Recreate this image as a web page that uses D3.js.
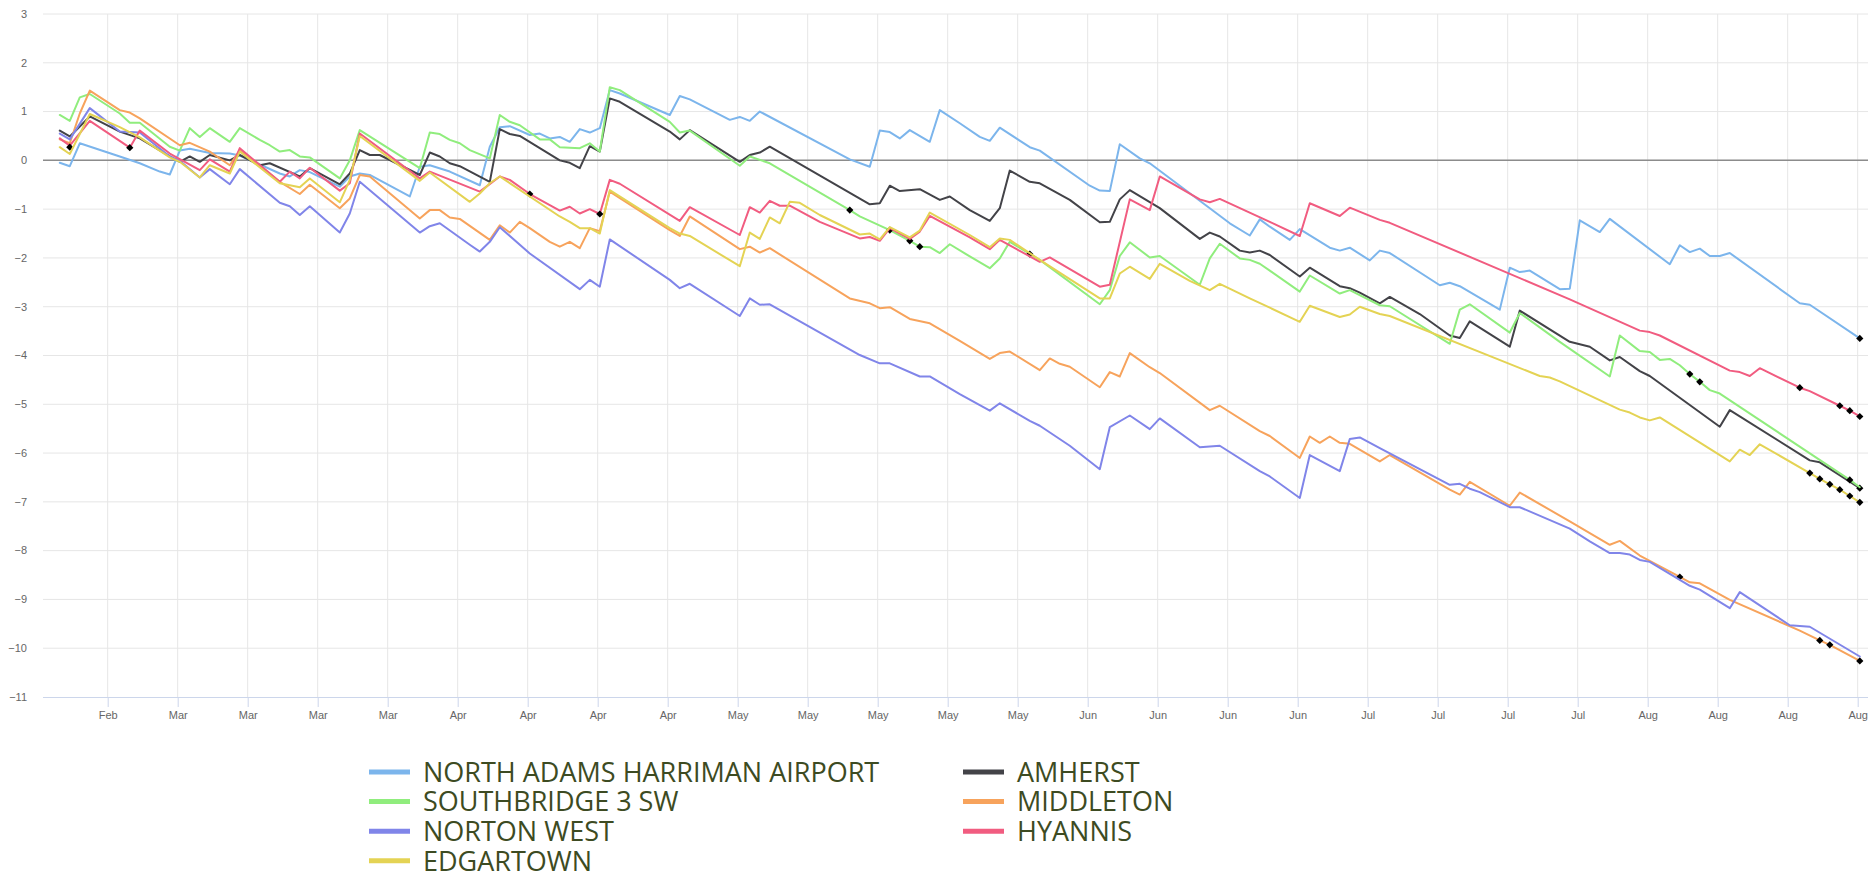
<!DOCTYPE html>
<html>
<head>
<meta charset="utf-8">
<script src="https://cdn.jsdelivr.net/npm/d3@7"></script>
<style>
  body { margin: 0; background: #fff; }
  svg { display: block; font-family: "Open Sans", "DejaVu Sans", sans-serif; }
</style>
</head>
<body>
<div id="chart"></div>
<script>
// station names and colours, in legend order
const names = ['NORTH ADAMS HARRIMAN AIRPORT', 'AMHERST', 'SOUTHBRIDGE 3 SW', 'MIDDLETON', 'NORTON WEST', 'HYANNIS', 'EDGARTOWN'];
const colors = ['#7cb5ec', '#434348', '#90ed7d', '#f7a35c', '#8085e9', '#f15c80', '#e4d354'];

// readings: [day since Feb 23 2021, value]
const northAdams = [[0,-0.05],[1,-0.12],[2,0.35],[6,0.08],[8,-0.06],[10,-0.23],[11,-0.29],[12,0.2],[13,0.24],[15,0.15],[17,0.14],[18,0.1],[22,-0.27],[23,-0.33],[24,-0.2],[25,-0.24],[28,-0.54],[29,-0.33],[30,-0.27],[31,-0.3],[35,-0.74],[36,-0.13],[37,-0.1],[39,-0.23],[42,-0.51],[43,0.28],[44,0.68],[45,0.7],[47,0.52],[48,0.55],[49,0.45],[50,0.48],[51,0.38],[52,0.64],[53,0.57],[54,0.66],[55,1.44],[56,1.37],[61,0.93],[62,1.32],[63,1.25],[67,0.83],[68,0.89],[69,0.81],[70,1.0],[79,0.02],[81,-0.13],[82,0.61],[83,0.58],[84,0.45],[85,0.62],[87,0.38],[88,1.03],[90,0.76],[92,0.48],[93,0.4],[94,0.67],[97,0.27],[98,0.2],[103,-0.52],[104,-0.62],[105,-0.63],[106,0.33],[108,0.04],[109,-0.06],[117,-1.29],[119,-1.54],[120,-1.21],[121,-1.36],[123,-1.63],[124,-1.41],[127,-1.79],[128,-1.85],[129,-1.79],[131,-2.05],[132,-1.85],[133,-1.9],[138,-2.56],[139,-2.51],[140,-2.58],[144,-3.06],[145,-2.2],[146,-2.29],[147,-2.26],[150,-2.64],[151,-2.63],[152,-1.23],[154,-1.47],[155,-1.2],[161,-2.13],[162,-1.74],[163,-1.88],[164,-1.81],[165,-1.96],[166,-1.96],[167,-1.9],[174,-2.93],[175,-2.96],[180,-3.65]];
const amherst = [[0,0.61],[1,0.49],[3,0.9],[6,0.59],[8,0.45],[11,0.08],[12,-0.03],[13,0.08],[14,-0.03],[15,0.11],[17,0],[18,0.11],[20,-0.1],[21,-0.06],[24,-0.33],[25,-0.16],[28,-0.49],[29,-0.27],[30,0.21],[31,0.11],[32,0.11],[36,-0.3],[37,0.16],[38,0.08],[39,-0.06],[40,-0.12],[43,-0.44],[44,0.64],[45,0.54],[46,0.5],[50,0],[51,-0.05],[52,-0.16],[53,0.29],[54,0.18],[55,1.27],[56,1.2],[61,0.59],[62,0.43],[63,0.62],[68,-0.03],[69,0.11],[70,0.16],[71,0.28],[81,-0.9],[82,-0.88],[83,-0.52],[84,-0.63],[86,-0.59],[88,-0.81],[89,-0.74],[91,-1.02],[93,-1.24],[94,-0.98],[95,-0.21],[97,-0.44],[98,-0.47],[101,-0.81],[104,-1.27],[105,-1.26],[106,-0.8],[107,-0.61],[110,-0.98],[114,-1.61],[115,-1.48],[116,-1.56],[118,-1.85],[119,-1.89],[120,-1.85],[121,-1.94],[124,-2.38],[125,-2.2],[128,-2.58],[129,-2.62],[130,-2.71],[132,-2.93],[133,-2.8],[136,-3.15],[139,-3.59],[140,-3.64],[141,-3.3],[145,-3.82],[146,-3.08],[151,-3.72],[153,-3.82],[155,-4.1],[156,-4.03],[158,-4.32],[159,-4.42],[166,-5.46],[167,-5.12],[175,-6.15],[176,-6.19],[180,-6.72]];
const southbridge = [[0,0.93],[1,0.81],[2,1.29],[3,1.36],[6,0.96],[7,0.77],[8,0.77],[11,0.28],[12,0.2],[13,0.66],[14,0.48],[15,0.66],[17,0.38],[18,0.66],[20,0.42],[21,0.31],[22,0.18],[23,0.21],[24,0.08],[25,0.06],[28,-0.37],[29,0],[30,0.62],[36,-0.16],[37,0.57],[38,0.54],[39,0.42],[40,0.35],[41,0.21],[43,0.04],[44,0.93],[45,0.79],[46,0.72],[48,0.43],[49,0.43],[50,0.27],[52,0.25],[53,0.35],[54,0.18],[55,1.5],[56,1.44],[61,0.79],[62,0.57],[63,0.61],[68,-0.11],[69,0.08],[71,-0.06],[79,-1.02],[80,-1.15],[83,-1.43],[85,-1.65],[86,-1.77],[87,-1.78],[88,-1.9],[89,-1.72],[91,-1.97],[93,-2.21],[94,-2.01],[95,-1.67],[98,-2.04],[104,-2.95],[105,-2.66],[106,-1.96],[107,-1.68],[109,-1.99],[110,-1.96],[114,-2.55],[115,-2.01],[116,-1.71],[118,-2.01],[119,-2.04],[120,-2.12],[121,-2.26],[124,-2.69],[125,-2.36],[128,-2.73],[129,-2.66],[132,-2.97],[133,-2.99],[139,-3.76],[140,-3.06],[141,-2.95],[145,-3.53],[146,-3.13],[150,-3.72],[155,-4.43],[156,-3.59],[158,-3.91],[159,-3.93],[160,-4.09],[161,-4.07],[162,-4.2],[163,-4.38],[164,-4.54],[165,-4.71],[166,-4.78],[179,-6.55],[180,-6.7]];
const middleton = [[0,0.43],[1,0.35],[2,0.96],[3,1.43],[6,1.03],[7,0.98],[8,0.86],[12,0.31],[13,0.36],[15,0.18],[17,-0.1],[18,0.21],[22,-0.44],[24,-0.69],[25,-0.5],[28,-0.98],[29,-0.78],[30,-0.3],[31,-0.33],[36,-1.19],[37,-1.02],[38,-1.02],[39,-1.17],[40,-1.2],[43,-1.63],[44,-1.33],[45,-1.48],[46,-1.26],[47,-1.39],[49,-1.67],[50,-1.77],[51,-1.67],[52,-1.8],[53,-1.39],[54,-1.45],[55,-0.64],[61,-1.43],[62,-1.55],[63,-1.15],[68,-1.82],[69,-1.77],[70,-1.89],[71,-1.8],[79,-2.83],[81,-2.93],[82,-3.03],[83,-3.01],[85,-3.25],[87,-3.34],[90,-3.7],[93,-4.07],[94,-3.95],[95,-3.92],[98,-4.3],[99,-4.06],[100,-4.17],[101,-4.23],[104,-4.65],[105,-4.34],[106,-4.43],[107,-3.95],[109,-4.24],[110,-4.36],[115,-5.12],[116,-5.03],[120,-5.55],[121,-5.65],[124,-6.1],[125,-5.66],[126,-5.79],[127,-5.66],[128,-5.79],[129,-5.81],[132,-6.17],[133,-6.04],[139,-6.75],[140,-6.85],[141,-6.59],[145,-7.08],[146,-6.81],[151,-7.4],[155,-7.88],[156,-7.8],[158,-8.1],[162,-8.54],[163,-8.65],[164,-8.67],[167,-9.01],[174,-9.64],[176,-9.84],[177,-9.93],[180,-10.26]];
const nortonWest = [[0,0.55],[1,0.43],[3,1.07],[6,0.59],[8,0.57],[11,0.08],[12,-0.01],[14,-0.35],[15,-0.18],[17,-0.49],[18,-0.18],[22,-0.87],[23,-0.94],[24,-1.12],[25,-0.94],[28,-1.48],[29,-1.09],[30,-0.44],[36,-1.48],[37,-1.35],[38,-1.29],[41,-1.73],[42,-1.87],[43,-1.67],[44,-1.37],[47,-1.91],[52,-2.64],[53,-2.45],[54,-2.59],[55,-1.62],[61,-2.45],[62,-2.62],[63,-2.53],[68,-3.19],[69,-2.83],[70,-2.96],[71,-2.95],[80,-3.99],[82,-4.16],[83,-4.16],[86,-4.43],[87,-4.43],[90,-4.79],[93,-5.13],[94,-4.98],[97,-5.34],[98,-5.44],[101,-5.85],[104,-6.33],[105,-5.47],[107,-5.23],[109,-5.51],[110,-5.29],[114,-5.88],[116,-5.85],[120,-6.37],[121,-6.48],[124,-6.92],[125,-6.04],[128,-6.37],[129,-5.71],[130,-5.68],[132,-5.9],[139,-6.65],[140,-6.63],[141,-6.73],[142,-6.8],[145,-7.11],[146,-7.11],[151,-7.55],[153,-7.81],[155,-8.05],[156,-8.05],[157,-8.08],[158,-8.19],[159,-8.23],[163,-8.72],[164,-8.8],[167,-9.18],[168,-8.85],[173,-9.53],[175,-9.56],[180,-10.17]];
const hyannis = [[0,0.45],[1,0.3],[3,0.81],[7,0.26],[8,0.61],[11,0.14],[14,-0.2],[15,0.02],[17,-0.23],[18,0.25],[22,-0.44],[23,-0.23],[24,-0.37],[25,-0.15],[28,-0.62],[29,-0.47],[30,0.55],[36,-0.37],[37,-0.23],[42,-0.64],[44,-0.33],[45,-0.4],[47,-0.69],[50,-1.03],[51,-0.95],[52,-1.09],[53,-1.0],[54,-1.1],[55,-0.4],[56,-0.48],[62,-1.24],[63,-0.96],[68,-1.53],[69,-0.96],[70,-1.07],[71,-0.83],[72,-0.93],[73,-0.93],[76,-1.26],[80,-1.6],[81,-1.57],[82,-1.65],[83,-1.39],[85,-1.61],[86,-1.46],[87,-1.14],[91,-1.58],[93,-1.82],[94,-1.63],[98,-2.08],[99,-1.99],[104,-2.59],[105,-2.55],[107,-0.8],[109,-1.02],[110,-0.33],[114,-0.8],[115,-0.86],[116,-0.79],[121,-1.26],[124,-1.55],[125,-0.88],[128,-1.14],[129,-0.97],[132,-1.22],[133,-1.28],[151,-2.85],[158,-3.49],[159,-3.52],[160,-3.59],[167,-4.31],[168,-4.34],[169,-4.42],[170,-4.26],[174,-4.66],[175,-4.73],[178,-5.03],[179,-5.13],[180,-5.25]];
const edgartown = [[0,0.27],[1,0.13],[3,0.95],[6,0.68],[8,0.47],[11,0.06],[12,-0.03],[14,-0.35],[15,-0.1],[17,-0.27],[18,0.18],[22,-0.47],[24,-0.55],[25,-0.37],[28,-0.86],[29,-0.4],[30,0.5],[36,-0.42],[37,-0.25],[41,-0.85],[42,-0.68],[43,-0.47],[44,-0.33],[50,-1.15],[51,-1.26],[52,-1.39],[53,-1.39],[54,-1.5],[55,-0.61],[61,-1.39],[62,-1.5],[63,-1.55],[68,-2.17],[69,-1.48],[70,-1.61],[71,-1.17],[72,-1.29],[73,-0.85],[74,-0.87],[76,-1.12],[80,-1.52],[81,-1.5],[82,-1.62],[83,-1.37],[85,-1.58],[86,-1.44],[87,-1.07],[91,-1.53],[93,-1.78],[94,-1.6],[95,-1.63],[98,-2.04],[104,-2.83],[105,-2.83],[106,-2.32],[107,-2.18],[109,-2.43],[110,-2.12],[113,-2.47],[115,-2.66],[116,-2.53],[119,-2.83],[121,-3.02],[124,-3.31],[125,-2.98],[128,-3.21],[129,-3.16],[130,-3.0],[132,-3.15],[133,-3.19],[148,-4.42],[149,-4.45],[150,-4.53],[156,-5.11],[157,-5.17],[158,-5.27],[159,-5.33],[160,-5.27],[167,-6.17],[168,-5.93],[169,-6.04],[170,-5.82],[175,-6.41],[176,-6.53],[177,-6.64],[178,-6.75],[179,-6.88],[180,-7.01]];

// flagged readings: [series index, day, value]
const flagged = [[5,1,0.27],[5,7,0.26],[5,47,-0.69],[5,54,-1.1],[2,79,-1.02],[2,83,-1.43],[2,85,-1.65],[2,86,-1.77],[2,97,-1.92],[2,163,-4.38],[2,164,-4.54],[2,179,-6.55],[3,162,-8.54],[3,176,-9.84],[3,177,-9.93],[3,180,-10.26],[5,174,-4.66],[5,178,-5.03],[5,179,-5.13],[5,180,-5.25],[6,175,-6.41],[6,176,-6.53],[6,177,-6.64],[6,178,-6.75],[6,179,-6.88],[6,180,-7.01],[1,180,-6.72],[0,180,-3.65]];

const yTicks = d3.range(-11, 4);
const series = [northAdams, amherst, southbridge, middleton, nortonWest, hyannis, edgartown];

const width = 1868, height = 876;
const plot = { left: 43, right: 1868, top: 14, bottom: 697 };

const firstDay = new Date(2021, 1, 23, 5);
const toDate = n => d3.timeDay.offset(firstDay, n);

const x = d3.scaleTime()
  .domain([new Date(2021, 1, 21, 12, 43), new Date(2021, 7, 23, 0, 43)])
  .range([plot.left, plot.right]);
const y = d3.scaleLinear().domain([-11, 3]).range([plot.bottom, plot.top]);
const weekTicks = d3.timeSunday.range(new Date(2021, 1, 28), new Date(2021, 7, 23));

const svg = d3.select('#chart').append('svg')
  .attr('width', width)
  .attr('height', height);

// grid
svg.append('g').selectAll('line').data(yTicks.filter(d => d > -11)).join('line')
  .attr('x1', plot.left).attr('x2', plot.right)
  .attr('y1', d => y(d)).attr('y2', d => y(d))
  .attr('stroke', '#e6e6e6');
svg.append('g').selectAll('line').data(weekTicks).join('line')
  .attr('x1', d => x(d)).attr('x2', d => x(d))
  .attr('y1', plot.top).attr('y2', plot.bottom)
  .attr('stroke', '#e6e6e6');

// zero line
svg.append('line')
  .attr('x1', plot.left).attr('x2', plot.right)
  .attr('y1', y(0)).attr('y2', y(0))
  .attr('stroke', '#8c8c8c').attr('stroke-width', 1.5);

// x axis
const xAxis = svg.append('g')
  .attr('transform', 'translate(0,' + plot.bottom + ')')
  .call(d3.axisBottom(x).tickValues(weekTicks).tickFormat(d3.timeFormat('%b')).tickSize(10).tickPadding(4));
xAxis.select('.domain').remove();
xAxis.selectAll('line').attr('stroke', '#ccd6eb');
xAxis.selectAll('text').attr('fill', '#666').attr('font-size', 11).attr('font-family', '"Liberation Sans", Arial, sans-serif');
svg.append('line')
  .attr('x1', plot.left).attr('x2', plot.right)
  .attr('y1', plot.bottom + 0.5).attr('y2', plot.bottom + 0.5)
  .attr('stroke', '#ccd6eb');

// y labels
svg.append('g').selectAll('text').data(yTicks).join('text')
  .attr('x', 27)
  .attr('y', d => y(d))
  .attr('dy', '0.35em')
  .attr('text-anchor', 'end')
  .attr('fill', '#666')
  .attr('font-size', 11)
  .attr('font-family', '"Liberation Sans", Arial, sans-serif')
  .text(d3.format('d'));

// lines and flagged points
const line = d3.line()
  .x(d => x(toDate(d[0])))
  .y(d => y(d[1]));

series.forEach(function(data, i) {
  const g = svg.append('g');
  g.append('path')
    .datum(data)
    .attr('fill', 'none')
    .attr('stroke', colors[i])
    .attr('stroke-width', 2)
    .attr('stroke-linejoin', 'round')
    .attr('stroke-linecap', 'round')
    .attr('d', line);
  g.selectAll('path.flag').data(flagged.filter(f => f[0] === i)).join('path')
    .attr('class', 'flag')
    .attr('transform', f => 'translate(' + x(toDate(f[1])) + ',' + y(f[2]) + ')')
    .attr('d', 'M0,-3.6L3.6,0L0,3.6L-3.6,0Z')
    .attr('fill', '#000');
});

// legend, two columns
const legend = svg.append('g').selectAll('g').data(names).join('g')
  .attr('transform', (d, i) => 'translate(' + [369, 963][i % 2] + ',' + (772 + Math.floor(i / 2) * 29.6) + ')');
legend.append('line')
  .attr('x1', 0).attr('x2', 41)
  .attr('stroke', (d, i) => colors[i])
  .attr('stroke-width', 5);
legend.append('text')
  .attr('x', 54)
  .attr('dy', '0.36em')
  .attr('fill', '#3d4b22')
  .attr('font-size', 27)
  .text(d => d);
</script>
</body>
</html>
